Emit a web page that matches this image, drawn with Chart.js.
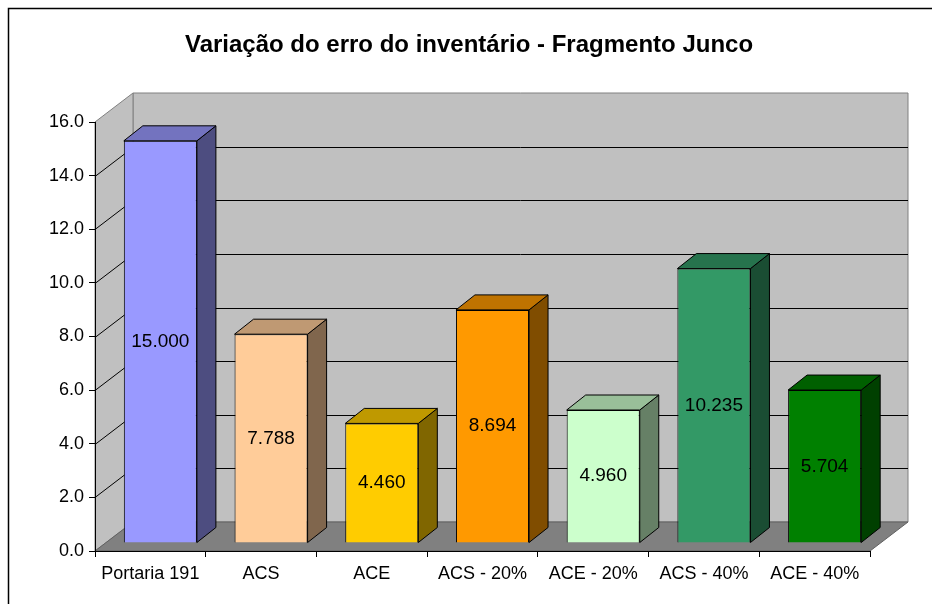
<!DOCTYPE html>
<html>
<head>
<meta charset="utf-8">
<script src="https://cdn.jsdelivr.net/npm/chart.js@4/dist/chart.umd.min.js"></script>
<style>
  html, body { margin: 0; padding: 0; background: #ffffff; }
  #wrap { width: 932px; height: 604px; position: relative; }
</style>
</head>
<body>
<div id="wrap"><canvas id="errChart"></canvas></div>
<script>
const chartTitle = 'Variação do erro do inventário - Fragmento Junco';
const categories = ['Portaria 191', 'ACS', 'ACE', 'ACS - 20%', 'ACE - 20%', 'ACS - 40%', 'ACE - 40%'];
const erroValues = [15.000, 7.788, 4.460, 8.694, 4.960, 10.235, 5.704];
const yTicks = [0, 2, 4, 6, 8, 10, 12, 14, 16];
const barColors = ['#9999FF', '#FFCC99', '#FFCC00', '#FF9900', '#CCFFCC', '#339966', '#008000'];

const FONT = '"Liberation Sans", Arial, sans-serif';

// 3D look (pixels)
const WALL_DX = 38, WALL_DY = -29;
const BAR_SHIFT_X = 10, BAR_SHIFT_Y = -8;
const BAR_DX = 19, BAR_DY = -15;

function shade(hex, f) {
    const n = parseInt(hex.slice(1), 16);
    const r = Math.round(((n >> 16) & 255) * f);
    const g = Math.round(((n >> 8) & 255) * f);
    const b = Math.round((n & 255) * f);
    return 'rgb(' + r + ',' + g + ',' + b + ')';
}

function poly(ctx, pts, fill, stroke) {
    ctx.beginPath();
    ctx.moveTo(pts[0][0], pts[0][1]);
    for (let i = 1; i < pts.length; i++) ctx.lineTo(pts[i][0], pts[i][1]);
    ctx.closePath();
    if (fill) { ctx.fillStyle = fill; ctx.fill(); }
    if (stroke) { ctx.strokeStyle = stroke; ctx.lineWidth = 1; ctx.stroke(); }
}

const walls3d = {
    id: 'walls3d',
    beforeDraw(chart) {
        const ctx = chart.ctx;
        const a = chart.chartArea;
        const y = chart.scales.y;
        ctx.save();
        // outer frame
        ctx.strokeStyle = '#000000';
        ctx.lineWidth = 1.5;
        ctx.beginPath();
        ctx.moveTo(8.5, chart.height + 2);
        ctx.lineTo(8.5, 8.5);
        ctx.lineTo(chart.width + 2, 8.5);
        ctx.stroke();
        // title
        ctx.fillStyle = '#000000';
        ctx.font = 'bold 24px ' + FONT;
        ctx.textAlign = 'center';
        ctx.textBaseline = 'alphabetic';
        ctx.fillText(chartTitle, chart.width / 2 + 3, 52);
        // back wall
        poly(ctx, [[a.left + WALL_DX, a.top + WALL_DY], [a.right + WALL_DX, a.top + WALL_DY],
                   [a.right + WALL_DX, a.bottom + WALL_DY], [a.left + WALL_DX, a.bottom + WALL_DY]],
             '#C0C0C0', '#808080');
        // side wall
        poly(ctx, [[a.left, a.top], [a.left + WALL_DX, a.top + WALL_DY],
                   [a.left + WALL_DX, a.bottom + WALL_DY], [a.left, a.bottom]],
             '#C0C0C0', '#808080');
        // floor
        poly(ctx, [[a.left, a.bottom], [a.left + WALL_DX, a.bottom + WALL_DY],
                   [a.right + WALL_DX, a.bottom + WALL_DY], [a.right, a.bottom]],
             '#808080', '#606060');
        // gridlines
        ctx.strokeStyle = '#000000';
        ctx.lineWidth = 1;
        yTicks.forEach(v => {
            if (v === yTicks[0] || v === yTicks[yTicks.length - 1]) return;
            const py = Math.round(y.getPixelForValue(v)) + 0.5;
            ctx.beginPath();
            ctx.moveTo(a.left, py);
            ctx.lineTo(a.left + WALL_DX, py + WALL_DY);
            ctx.lineTo(a.right + WALL_DX, py + WALL_DY);
            ctx.stroke();
        });
        ctx.restore();
    },
    beforeDatasetsDraw(chart) {
        chart.ctx.save();
        chart.ctx.translate(BAR_SHIFT_X, BAR_SHIFT_Y);
    },
    afterDatasetsDraw(chart) {
        const ctx = chart.ctx;
        const meta = chart.getDatasetMeta(0);
        meta.data.forEach((bar, i) => {
            const p = bar.getProps(['x', 'y', 'base', 'width'], true);
            const l = p.x - p.width / 2, r = p.x + p.width / 2;
            const top = p.y, base = p.base;
            poly(ctx, [[r, top], [r + BAR_DX, top + BAR_DY], [r + BAR_DX, base + BAR_DY], [r, base]],
                 shade(barColors[i], 0.5), '#000000');
            poly(ctx, [[l, top], [l + BAR_DX, top + BAR_DY], [r + BAR_DX, top + BAR_DY], [r, top]],
                 shade(barColors[i], 0.75), '#000000');
            ctx.fillStyle = '#000000';
            ctx.font = '19px ' + FONT;
            ctx.textAlign = 'center';
            ctx.textBaseline = 'middle';
            ctx.fillText(erroValues[i].toFixed(3), p.x, (top + base) / 2);
        });
        ctx.restore();
    }
};

const ctx = document.getElementById('errChart').getContext('2d');
new Chart(ctx, {
    type: 'bar',
    data: {
        labels: categories,
        datasets: [{
            data: erroValues,
            backgroundColor: barColors,
            borderColor: '#000000',
            borderWidth: 1,
            barPercentage: 0.66,
            categoryPercentage: 1
        }]
    },
    options: {
        responsive: true,
        maintainAspectRatio: false,
        animation: false,
        events: [],
        layout: {
            padding: { left: 0, right: 62, top: 122, bottom: 0 }
        },
        plugins: {
            legend: { display: false },
            tooltip: { enabled: false },
            title: { display: false }
        },
        scales: {
            x: {
                afterFit(scale) { scale.height = 53; },
                ticks: {
                    color: '#000000',
                    padding: 6,
                    font: { family: FONT, size: 18 }
                },
                grid: {
                    drawOnChartArea: false,
                    tickLength: 6,
                    tickColor: '#000000'
                },
                border: { color: '#000000' }
            },
            y: {
                min: 0,
                max: 16,
                afterFit(scale) { scale.width = 95; },
                afterBuildTicks(scale) { scale.ticks = yTicks.map(v => ({ value: v })); },
                ticks: {
                    color: '#000000',
                    padding: 5,
                    callback: v => v.toFixed(1),
                    font: { family: FONT, size: 18 }
                },
                grid: {
                    drawOnChartArea: false,
                    tickLength: 6,
                    tickColor: '#000000'
                },
                border: { color: '#000000' }
            }
        }
    },
    plugins: [walls3d]
});
</script>
</body>
</html>
